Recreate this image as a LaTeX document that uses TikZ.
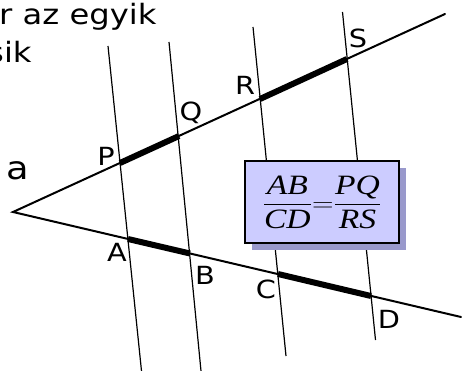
\documentclass[tikz,border=0pt]{standalone}
\usepackage{amsmath}
\usepackage{fontspec}
\setmainfont{DejaVu Sans}
\newfontfamily\eqfont{Liberation Serif}
\usetikzlibrary{positioning, shadows, calc}
\definecolor{boxfill}{HTML}{CCCCFF}
\definecolor{boxshadow}{HTML}{9999CC}
\tikzstyle{ray}        = [line width=2pt, line cap=round]
\tikzstyle{transverse} = [line width=1.2pt]
\tikzstyle{segment}    = [line width=6pt]
\tikzstyle{pointlabel} = [inner sep=0pt, xscale=1.15, font=\fontsize{25}{29}\selectfont]
\tikzstyle{toptext}    = [anchor=base west, inner sep=0pt, xscale=1.15, font=\fontsize{28}{34}\selectfont]
\tikzstyle{ratiobox}   = [rectangle, draw=black, line width=1.2pt, fill=boxfill,
                          minimum width=154pt, minimum height=82pt,
                          drop shadow={shadow xshift=7pt, shadow yshift=-7pt,
                                       fill=boxshadow, opacity=1}]

\begin{document}
\begin{tikzpicture}[x=1pt, y=-1pt]
  \useasboundingbox (0,0) rectangle (466,371);
  \clip (0,0) rectangle (466,371);

  % Text cut off at the left edge
  \node (line1) [toptext] at (-1,25)  {r az egyik};
  \node (line2) [toptext] at (-13,63) {sik};

  % Vertex and ray ends
  \coordinate (O)  at (13,212);
  \coordinate (U)  at (445,14);
  \coordinate (L)  at (461,317);

  % Points on the upper ray
  \coordinate (P) at (120,163);
  \coordinate (Q) at (179,136);
  \coordinate (R) at (260,99);
  \coordinate (S) at (347,59);

  % Points on the lower ray
  \coordinate (A) at (128,239);
  \coordinate (B) at (190,253.5);
  \coordinate (C) at (278,274);
  \coordinate (D) at (371,296);

  % Ends of the parallel lines
  \coordinate (t1) at (108,46);   \coordinate (b1) at (141.5,371);
  \coordinate (t2) at (169,42);   \coordinate (b2) at (201,371);
  \coordinate (t3) at (253,27);   \coordinate (b3) at (286,356);
  \coordinate (t4) at (342.5,12); \coordinate (b4) at (375.5,340);

  % Parallel lines
  \draw[transverse] (t1) -- (b1);
  \draw[transverse] (t2) -- (b2);
  \draw[transverse] (t3) -- (b3);
  \draw[transverse] (t4) -- (b4);

  % Rays
  \draw[ray] (U) -- (O) -- (L);

  % Thick segments
  \draw[segment] (P) -- (Q);
  \draw[segment] (R) -- (S);
  \draw[segment] (A) -- (B);
  \draw[segment] (C) -- (D);

  % Labels
  \node (la) [inner sep=0pt, xscale=1.15, font=\fontsize{32}{36}\selectfont] at (18,171) {a};
  \node (lP) [pointlabel] at (106,156) {P};
  \node (lQ) [pointlabel] at (191,113) {Q};
  \node (lR) [pointlabel] at (245,85)  {R};
  \node (lS) [pointlabel] at (358,38)  {S};
  \node (lA) [pointlabel] at (117,252) {A};
  \node (lB) [pointlabel] at (205,275) {B};
  \node (lC) [pointlabel] at (266,289) {C};
  \node (lD) [pointlabel] at (389,319) {D};

  % Ratio box
  \node (ratio) [ratiobox] at (322,202)
    {\fontsize{28}{32}\selectfont\scalebox{1.2}[1]{%
     $\dfrac{\text{\eqfont\itshape AB}}{\text{\eqfont\itshape CD}}
      {=}\dfrac{\text{\eqfont\itshape PQ}}{\text{\eqfont\itshape RS}}$}};

\end{tikzpicture}
\end{document}
